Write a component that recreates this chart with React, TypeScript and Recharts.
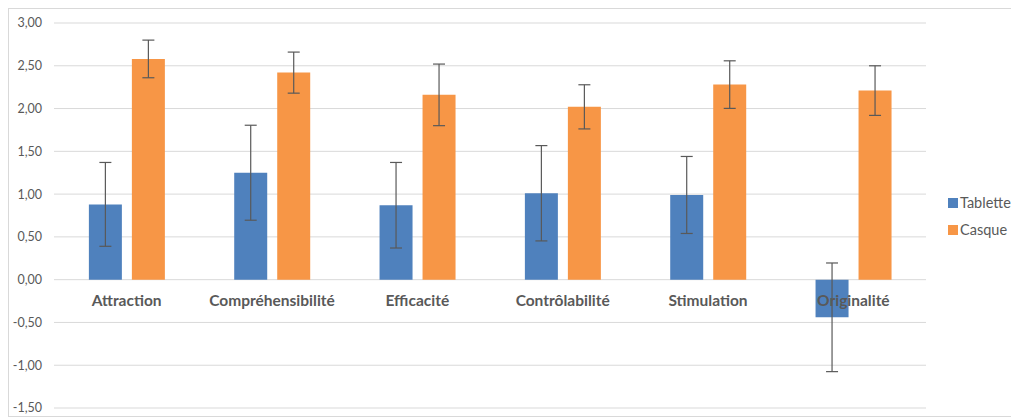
import React from "react";
import { BarChart, Bar, XAxis, YAxis, CartesianGrid, ErrorBar } from "recharts";

const categories = ["Attraction", "Compréhensibilité", "Efficacité", "Contrôlabilité", "Stimulation", "Originalité"];
const tabletteValues = [0.88, 1.25, 0.87, 1.01, 0.99, -0.44];
const tabletteErrors = [0.49, 0.555, 0.5, 0.557, 0.45, 0.635];
const casqueValues = [2.58, 2.42, 2.16, 2.02, 2.28, 2.21];
const casqueErrors = [0.22, 0.24, 0.36, 0.258, 0.278, 0.29];
const yTicks = [-1.5, -1, -0.5, 0, 0.5, 1, 1.5, 2, 2.5, 3];
const seriesNames = ["Tablette", "Casque"];
const seriesColors = ["#4F81BD", "#F79646"];

const data = categories.map((name, i) => ({
  name,
  Tablette: tabletteValues[i],
  tErr: tabletteErrors[i],
  Casque: casqueValues[i],
  cErr: casqueErrors[i],
}));

const W = 1011;
const H = 405;
const X_AXIS_H = 2;
const MARGIN = { top: 14, right: 94, bottom: 4, left: 0 };
const PLOT_H = H - MARGIN.top - MARGIN.bottom - X_AXIS_H;
const Y_MIN = -1.5;
const Y_MAX = 3;
const ZERO_Y = MARGIN.top + PLOT_H * (Y_MAX / (Y_MAX - Y_MIN));

const FONT = "Lato, 'Open Sans', sans-serif";
const TEXT = "#595959";

const CatTick = (props: any) => {
  const { x, payload } = props;
  return (
    <text x={x} y={ZERO_Y + 26} textAnchor="middle" fill={TEXT} fontFamily={FONT} fontWeight={700} fontSize={15.5}>
      {payload.value}
    </text>
  );
};

export default function App() {
  return (
    <div style={{ width: W, height: H + 4, border: "1px solid #d9d9d9", background: "#fff", boxSizing: "border-box", position: "relative" }}>
      <BarChart width={W} height={H} data={data} margin={MARGIN} barGap={10} barCategoryGap="24%">
        <CartesianGrid vertical={false} stroke="#d9d9d9" />
        <YAxis
          domain={[Y_MIN, Y_MAX]}
          ticks={yTicks}
          interval={0}
          width={45}
          axisLine={false}
          tickLine={false}
          tickMargin={6}
          tick={{ fill: TEXT, fontFamily: FONT, fontSize: 12.5 }}
          tickFormatter={(v: number) => v.toFixed(2).replace(".", ",")}
        />
        <Bar dataKey="Tablette" fill={seriesColors[0]} isAnimationActive={false}>
          <ErrorBar dataKey="tErr" width={6} stroke="#595959" strokeWidth={1.2} />
        </Bar>
        <Bar dataKey="Casque" fill={seriesColors[1]} isAnimationActive={false}>
          <ErrorBar dataKey="cErr" width={6} stroke="#595959" strokeWidth={1.2} />
        </Bar>
        <XAxis dataKey="name" height={X_AXIS_H} axisLine={false} tickLine={false} tick={<CatTick />} interval={0} />
      </BarChart>
      <div style={{ position: "absolute", left: 939, top: 180, fontFamily: FONT, fontSize: 14.5, color: TEXT, whiteSpace: "nowrap" }}>
        {seriesNames.map((n, i) => (
          <div key={n} style={{ display: "flex", alignItems: "center", height: 27 }}>
            <span style={{ width: 10, height: 10, background: seriesColors[i], display: "inline-block", marginRight: 2 }} />
            <span>{n}</span>
          </div>
        ))}
      </div>
    </div>
  );
}
